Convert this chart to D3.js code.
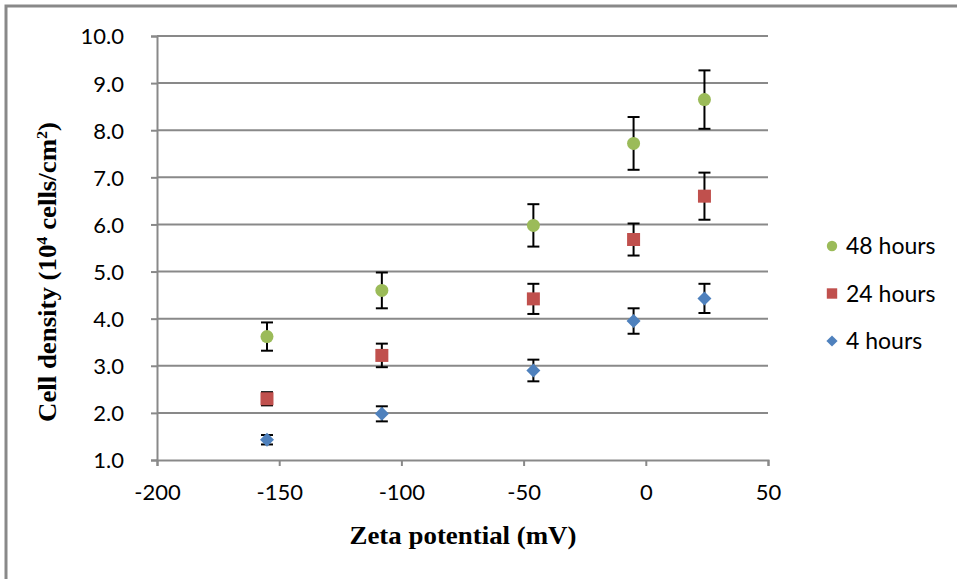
<!DOCTYPE html>
<meta charset="utf-8" />
<style>
  body { margin: 0; background: #fff; }
  .tick text { font: 22px Lato, "Open Sans", sans-serif; fill: #000; }
  .title { font-family: "Liberation Serif", "Times New Roman", serif; font-weight: bold; fill: #000; }
  .legend text { font: 23px Lato, "Open Sans", sans-serif; fill: #000; }
</style>
<body>
<script src="https://cdn.jsdelivr.net/npm/d3@7"></script>
<script>
  // values
  var zeta = [-155, -108, -46, -5, 24];
  var hours48 = [3.62, 4.60, 5.98, 7.72, 8.65];
  var hours48Err = [0.30, 0.38, 0.45, 0.56, 0.62];
  var hours24 = [2.30, 3.22, 4.42, 5.68, 6.60];
  var hours24Err = [0.14, 0.25, 0.32, 0.34, 0.50];
  var hours4 = [1.43, 1.98, 2.90, 3.95, 4.43];
  var hours4Err = [0.10, 0.16, 0.23, 0.27, 0.31];
  var xTicks = [-200, -150, -100, -50, 0, 50];
  var yTicks = [1, 2, 3, 4, 5, 6, 7, 8, 9, 10];

  var series = [
    { name: "4 hours", values: hours4, errs: hours4Err, color: "#4F81BD", shape: "diamond" },
    { name: "24 hours", values: hours24, errs: hours24Err, color: "#C0504D", shape: "square" },
    { name: "48 hours", values: hours48, errs: hours48Err, color: "#9BBB59", shape: "circle" }
  ];

  var width = 957, height = 579;
  var plot = { left: 157, right: 768, top: 36, bottom: 460 };
  var gridColor = "#898989";

  var x = d3.scaleLinear().domain([-200, 50]).range([plot.left, plot.right]);
  var y = d3.scaleLinear().domain([1, 10]).range([plot.bottom, plot.top]);

  var svg = d3.select("body").append("svg")
    .attr("width", width)
    .attr("height", height);

  // outer frame (only top and left edges show)
  svg.append("path")
    .attr("d", "M6," + height + "V6H" + width)
    .attr("fill", "none")
    .attr("stroke", gridColor)
    .attr("stroke-width", 3);

  // horizontal gridlines
  svg.append("g")
    .selectAll("line")
    .data(yTicks.slice(1))
    .enter()
    .append("line")
    .attr("x1", plot.left)
    .attr("x2", plot.right)
    .attr("y1", function (d) { return y(d); })
    .attr("y2", function (d) { return y(d); })
    .attr("stroke", gridColor)
    .attr("stroke-width", 2);

  // axes
  var yAxis = svg.append("g")
    .attr("transform", "translate(" + plot.left + ",0)")
    .call(d3.axisLeft(y).tickValues(yTicks).tickSize(6).tickPadding(27)
      .tickFormat(d3.format(".1f")));

  var xAxis = svg.append("g")
    .attr("transform", "translate(0," + plot.bottom + ")")
    .call(d3.axisBottom(x).tickValues(xTicks).tickSize(6).tickPadding(18)
      .tickFormat(function (d) { return String(d); }));

  [xAxis, yAxis].forEach(function (a) {
    a.select(".domain").attr("stroke", gridColor).attr("stroke-width", 2);
    a.selectAll(".tick line").attr("stroke", gridColor).attr("stroke-width", 2);
  });
  yAxis.selectAll(".tick text").attr("dy", "0.36em");

  // error bars then markers
  var capHalf = 6;
  series.forEach(function (s) {
    var g = svg.append("g");
    var pts = zeta.map(function (z, i) {
      return { x: z, y: s.values[i], e: s.errs[i] };
    });

    var eb = g.selectAll(".err")
      .data(pts)
      .enter()
      .append("g")
      .attr("stroke", "#000")
      .attr("stroke-width", 2);
    eb.append("line")
      .attr("x1", function (d) { return x(d.x); })
      .attr("x2", function (d) { return x(d.x); })
      .attr("y1", function (d) { return y(d.y + d.e); })
      .attr("y2", function (d) { return y(d.y - d.e); });
    eb.append("line")
      .attr("x1", function (d) { return x(d.x) - capHalf; })
      .attr("x2", function (d) { return x(d.x) + capHalf; })
      .attr("y1", function (d) { return y(d.y + d.e); })
      .attr("y2", function (d) { return y(d.y + d.e); });
    eb.append("line")
      .attr("x1", function (d) { return x(d.x) - capHalf; })
      .attr("x2", function (d) { return x(d.x) + capHalf; })
      .attr("y1", function (d) { return y(d.y - d.e); })
      .attr("y2", function (d) { return y(d.y - d.e); });

    g.selectAll(".mark")
      .data(pts)
      .enter()
      .append("path")
      .attr("d", markerPath(s.shape, 1))
      .attr("transform", function (d) {
        return "translate(" + x(d.x) + "," + y(d.y) + ")";
      })
      .attr("fill", s.color);
  });

  // legend
  var legendRows = [series[2], series[1], series[0]];
  var legend = svg.append("g").attr("class", "legend");
  legendRows.forEach(function (s, i) {
    var cy = 246 + i * 47.5;
    legend.append("path")
      .attr("d", markerPath(s.shape, 0.8))
      .attr("transform", "translate(832," + cy + ")")
      .attr("fill", s.color);
    legend.append("text")
      .attr("x", 846)
      .attr("y", cy)
      .attr("dy", "0.36em")
      .text(s.name);
  });

  // axis titles
  svg.append("text")
    .attr("class", "title")
    .attr("x", (plot.left + plot.right) / 2 + 0.5)
    .attr("y", 544)
    .attr("text-anchor", "middle")
    .style("font-size", "25px")
    .attr("textLength", 227)
    .attr("lengthAdjust", "spacingAndGlyphs")
    .text("Zeta potential (mV)");

  var yt = svg.append("text")
    .attr("class", "title")
    .attr("transform", "translate(56,272) rotate(-90)")
    .attr("text-anchor", "middle")
    .style("font-size", "25px")
    .attr("textLength", 300)
    .attr("lengthAdjust", "spacingAndGlyphs");
  yt.append("tspan").text("Cell density (10");
  yt.append("tspan").attr("dy", -9).style("font-size", "15px").text("4");
  yt.append("tspan").attr("dy", 9).text(" cells/cm");
  yt.append("tspan").attr("dy", -9).style("font-size", "15px").text("2");
  yt.append("tspan").attr("dy", 9).text(")");

  function markerPath(shape, k) {
    if (shape === "circle") {
      var r = 6.5 * k;
      return "M" + (-r) + ",0A" + r + "," + r + " 0 1,0 " + r + ",0A" + r + "," + r + " 0 1,0 " + (-r) + ",0Z";
    }
    if (shape === "square") {
      var h = 6.5 * k;
      return "M" + (-h) + "," + (-h) + "H" + h + "V" + h + "H" + (-h) + "Z";
    }
    var d = 7 * k;
    return "M0," + (-d) + "L" + d + ",0L0," + d + "L" + (-d) + ",0Z";
  }
</script>
</body>
